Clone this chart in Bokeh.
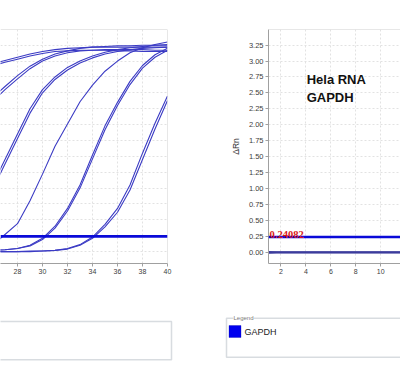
from bokeh.plotting import figure
from bokeh.models import (Range1d, FixedTicker, Span, Label, BoxAnnotation,
                          PrintfTickFormatter)
from bokeh.layouts import row, column
from bokeh.embed import file_html
from bokeh.resources import INLINE

# ---------------- data ----------------
threshold = 0.24082

# left panel: amplification curves, cycles 25..40 (delta Rn)
cycles = [25, 26, 27, 28, 29, 30, 31, 32, 33, 34, 35, 36, 37, 38, 39, 40]
curve_a1 = [2.90, 2.96, 3.01, 3.06, 3.11, 3.15, 3.18, 3.20, 3.21, 3.22, 3.22, 3.22, 3.22, 3.22, 3.22, 3.22]
curve_a2 = [2.87, 2.93, 2.98, 3.03, 3.08, 3.12, 3.15, 3.16, 3.17, 3.17, 3.17, 3.16, 3.16, 3.15, 3.15, 3.15]
curve_b1 = [2.22, 2.42, 2.60, 2.77, 2.92, 3.03, 3.11, 3.16, 3.20, 3.22, 3.23, 3.24, 3.24, 3.25, 3.25, 3.25]
curve_b2 = [2.15, 2.36, 2.55, 2.72, 2.88, 3.00, 3.08, 3.13, 3.16, 3.17, 3.18, 3.18, 3.18, 3.18, 3.17, 3.17]
curve_c1a = [0.68, 1.05, 1.45, 1.85, 2.25, 2.55, 2.75, 2.90, 3.00, 3.08, 3.14, 3.18, 3.21, 3.23, 3.25, 3.26]
curve_c1b = [0.62, 0.98, 1.38, 1.78, 2.18, 2.50, 2.71, 2.86, 2.97, 3.05, 3.11, 3.15, 3.18, 3.20, 3.21, 3.22]
curve_c2 = [0.04, 0.10, 0.27, 0.44, 0.80, 1.22, 1.66, 2.01, 2.36, 2.62, 2.84, 3.00, 3.13, 3.21, 3.26, 3.30]
curve_c3a = [0.01, 0.02, 0.03, 0.05, 0.10, 0.21, 0.40, 0.68, 1.05, 1.52, 1.98, 2.35, 2.68, 2.93, 3.10, 3.20]
curve_c3b = [0.01, 0.02, 0.03, 0.05, 0.09, 0.19, 0.37, 0.64, 1.00, 1.46, 1.92, 2.30, 2.63, 2.89, 3.06, 3.17]
curve_c4a = [0.00, 0.00, 0.00, 0.00, 0.01, 0.01, 0.02, 0.05, 0.11, 0.23, 0.43, 0.68, 1.05, 1.55, 2.02, 2.45]
curve_c4b = [0.00, 0.00, 0.00, 0.00, 0.00, 0.01, 0.02, 0.04, 0.10, 0.21, 0.39, 0.62, 0.97, 1.45, 1.93, 2.38]
left_curves = [curve_a1, curve_a2, curve_b1, curve_b2, curve_c1a, curve_c1b,
               curve_c2, curve_c3a, curve_c3b, curve_c4a, curve_c4b]

# right panel: Hela RNA GAPDH, early cycles (baseline)
hela_cycles = [1, 2, 3, 4, 5, 6, 7, 8, 9, 10, 11, 12]
hela_a = [0.00, 0.00, 0.00, 0.00, 0.00, 0.00, 0.00, 0.00, 0.00, 0.00, 0.00, 0.00]
hela_b = [0.01, 0.00, 0.00, 0.00, 0.00, 0.00, 0.00, 0.00, 0.00, 0.00, 0.00, 0.00]
hela_c = [-0.01, 0.00, 0.00, 0.00, 0.00, 0.00, 0.00, 0.00, 0.00, 0.00, 0.00, 0.00]

left_xticks = [28, 30, 32, 34, 36, 38, 40]
right_xticks = [2, 4, 6, 8, 10]
yticks = [0.0, 0.25, 0.5, 0.75, 1.0, 1.25, 1.5, 1.75, 2.0, 2.25, 2.5, 2.75, 3.0, 3.25]

title_text = "Hela RNA\nGAPDH"
legend_label = "GAPDH"

# ---------------- style ----------------
FONT = "Liberation Sans"
CURVE = "#3b3bc4"
THRESH = "#0a0ad8"
GRID = "#e2e2e2"
FRAME = "#cfcfcf"
AXIS = "#a0a0a0"
BOXC = "#7d8a97"


def style_axis(ax, size):
    ax.axis_line_color = AXIS
    ax.major_tick_line_color = AXIS
    ax.major_tick_out = 3
    ax.major_tick_in = 0
    ax.minor_tick_line_color = None
    ax.major_label_text_font = FONT
    ax.major_label_text_font_size = size
    ax.major_label_text_color = "#404040"
    ax.major_label_standoff = 2


# ---------------- left panel ----------------
p1 = figure(width=200, height=290, x_range=Range1d(26.64, 40.0),
            y_range=Range1d(-0.187, 3.497), output_backend="svg",
            toolbar_location=None, y_axis_location=None,
            min_border_left=0, min_border_right=33, min_border_top=29,
            min_border_bottom=23)
p1.outline_line_color = None
p1.background_fill_color = "white"
p1.border_fill_color = "white"
p1.xaxis.ticker = FixedTicker(ticks=left_xticks)
style_axis(p1.xaxis[0], "7px")
p1.xgrid.ticker = FixedTicker(ticks=left_xticks)
p1.ygrid.ticker = FixedTicker(ticks=yticks)
for g in (p1.xgrid[0], p1.ygrid[0]):
    g.grid_line_color = GRID
    g.grid_line_dash = "2 2"
for s in left_curves:
    p1.line(cycles, s, line_color=CURVE, line_width=1.1)
p1.add_layout(Span(location=3.497, dimension="width", line_color=FRAME, line_width=1))
p1.add_layout(Span(location=40.0, dimension="height", line_color=FRAME, line_width=1))
p1.add_layout(Span(location=threshold, dimension="width", line_color=THRESH, line_width=2.6))

# ---------------- right panel ----------------
p2 = figure(width=200, height=290, x_range=Range1d(1.0, 11.584),
            y_range=Range1d(-0.175, 3.494), output_backend="svg",
            toolbar_location=None,
            min_border_left=68, min_border_right=0, min_border_top=26,
            min_border_bottom=27)
p2.outline_line_color = None
p2.background_fill_color = "white"
p2.border_fill_color = "white"
p2.xaxis.ticker = FixedTicker(ticks=right_xticks)
p2.yaxis.ticker = FixedTicker(ticks=yticks)
p2.yaxis.formatter = PrintfTickFormatter(format="%.2f")
style_axis(p2.xaxis[0], "7px")
style_axis(p2.yaxis[0], "7.5px")
p2.yaxis.axis_label = "\u0394Rn"
p2.yaxis.axis_label_text_font = FONT
p2.yaxis.axis_label_text_font_size = "8.5px"
p2.yaxis.axis_label_text_font_style = "normal"
p2.yaxis.axis_label_text_color = "#333333"
p2.yaxis.axis_label_standoff = 5
p2.xgrid.ticker = FixedTicker(ticks=right_xticks)
p2.ygrid.ticker = FixedTicker(ticks=yticks)
for g in (p2.xgrid[0], p2.ygrid[0]):
    g.grid_line_color = GRID
    g.grid_line_dash = "2 2"
for s in (hela_a, hela_b, hela_c):
    p2.line(hela_cycles, s, line_color="#3c3c9c", line_width=1.6)
p2.add_layout(Span(location=3.494, dimension="width", line_color=FRAME, line_width=1))
p2.add_layout(Span(location=threshold, dimension="width", line_color=THRESH, line_width=2.6))
p2.add_layout(Label(x=1.0, y=threshold, x_offset=1, y_offset=2.5,
                    text=f"{threshold:.5f}", text_font="Liberation Serif",
                    text_font_style="bold", text_font_size="10.5px",
                    text_color="#d81818", text_baseline="alphabetic"))
p2.add_layout(Label(x=4.06, y=2.83, text=title_text, text_font=FONT,
                    text_font_style="bold", text_font_size="13px",
                    text_color="#111111", text_baseline="top", text_align="left"))

# ---------------- legend boxes ----------------
def legend_fig():
    f = figure(width=200, height=88, x_range=Range1d(0, 200), y_range=Range1d(88, 0),
               output_backend="svg", toolbar_location=None,
               x_axis_location=None, y_axis_location=None, min_border=0)
    f.outline_line_color = None
    f.grid.visible = False
    f.background_fill_color = "white"
    f.border_fill_color = "white"
    return f

lg1 = legend_fig()
lg1.add_layout(BoxAnnotation(left=-5, right=171, top=31, bottom=69.3,
                             fill_color=None, line_color=BOXC, line_width=1.5))

lg2 = legend_fig()
lg2.add_layout(BoxAnnotation(left=26, right=260, top=27.7, bottom=66.7,
                             fill_color=None, line_color=BOXC, line_width=1.5))
lg2.add_layout(Label(x=33, y=27.7, text="Legend", text_font=FONT,
                     text_font_size="6px", text_color="#7a7a7a",
                     text_baseline="middle", background_fill_color="white"))
# legend swatch and entry
lg2.add_layout(BoxAnnotation(left=28.5, right=40.5, top=35, bottom=47,
                             fill_color="#0000ee", fill_alpha=1.0,
                             line_color="#0000aa", line_width=1))
lg2.add_layout(Label(x=44, y=41.5, text=legend_label, text_font=FONT,
                     text_font_size="9px", text_color="#222222",
                     text_baseline="middle"))

layout = column(row(p1, p2), row(lg1, lg2))
open("out.html", "w").write(file_html(layout, INLINE))
